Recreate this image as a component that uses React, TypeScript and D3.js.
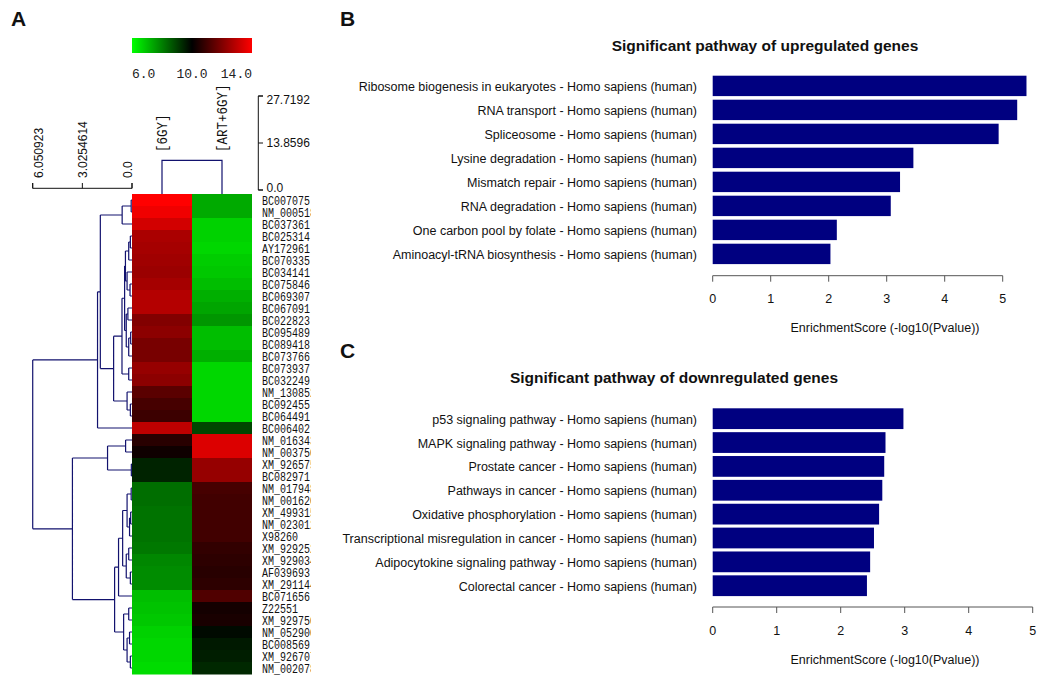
import React from 'react';
import * as d3 from 'd3';

// ---------- Panel A data ----------
const geneIds = [
  'BC007075', 'NM_000518', 'BC037361', 'BC025314', 'AY172961', 'BC070335', 'BC034141', 'BC075846',
  'BC069307', 'BC067091', 'BC022823', 'BC095489', 'BC089418', 'BC073766', 'BC073937', 'BC032249',
  'NM_130852', 'BC092455', 'BC064491', 'BC006402', 'NM_016343', 'NM_003750', 'XM_926575', 'BC082971',
  'NM_017948', 'NM_001620', 'XM_499315', 'NM_023012', 'X98260', 'XM_929252', 'XM_929034', 'AF039693',
  'XM_291144', 'BC071656', 'Z22551', 'XM_929750', 'NM_052900', 'BC008569', 'XM_926707', 'NM_002078',
];
const sampleNames = ['[6GY]', '[ART+6GY]'];
const expr6GY = [
  14.0, 13.76, 13.29, 12.67, 12.59, 12.51, 12.43, 12.59, 12.82, 12.82, 12.04, 12.2, 11.88, 11.88, 12.35, 12.2,
  11.41, 11.1, 10.94, 12.98, 10.63, 10.24, 9.45, 9.45, 8.27, 8.27, 8.2, 8.2, 8.2, 8.12, 7.88, 7.8,
  7.8, 7.02, 6.94, 6.86, 6.71, 6.63, 6.63, 6.55,
];
const exprART = [
  7.33, 7.33, 6.71, 6.71, 6.63, 6.78, 6.86, 7.02, 7.25, 7.41, 7.65, 7.02, 7.02, 7.25, 6.63, 6.63,
  6.63, 6.63, 6.63, 8.9, 13.45, 13.45, 12.35, 12.35, 11.1, 11.02, 11.02, 11.02, 11.02, 10.78, 10.71, 10.63,
  10.71, 11.25, 10.31, 10.39, 9.84, 9.61, 9.53, 9.37,
];
const keyTicks = [6, 10, 14];
const keyLabels = ['6.0', '10.0', '14.0'];

type Tree = number | [Tree, Tree, number];
// row dendrogram: [left, right, merge height]
const rowTree: Tree = [
  [
    [[[0, 1, 0.05], 2, 0.6],
      [
        [
          [
            [[[3, 4, 0.1], 5, 0.2], [6, [7, 8, 0.12], 0.3], 0.4],
            [[9, 10, 0.25], [[11, 12, 0.08], 13, 0.2], 0.35],
            0.45,
          ],
          [14, 15, 0.2],
          0.61,
        ],
        [16, [17, 18, 0.1], 0.3],
        1.12,
      ],
      1.93,
    ],
    19,
    2.1,
  ],
  [
    [[20, 21, 0.39], [22, 23, 0.04], 1.49],
    [
      [
        [
          [[24, 25, 0.05], [[26, 27, 0.08], 28, 0.15], 0.3],
          [[29, 30, 0.2], [31, 32, 0.1], 0.35],
          0.57,
        ],
        33,
        0.82,
      ],
      [[34, 35, 0.2], [[36, 37, 0.15], [38, 39, 0.1], 0.3], 0.51],
      1.06,
    ],
    3.63,
  ],
  6.05,
];
const colMergeHeight = 8.76;
const rowScaleTicks = [6.050923, 3.0254614, 0.0];
const rowScaleLabels = ['6.050923', '3.0254614', '0.0'];
const colScaleTicks = [27.7192, 13.8596, 0.0];
const colScaleLabels = ['27.7192', '13.8596', '0.0'];

// ---------- Panels B / C data ----------
const upPathways = [
  'Ribosome biogenesis in eukaryotes - Homo sapiens (human)',
  'RNA transport - Homo sapiens (human)',
  'Spliceosome - Homo sapiens (human)',
  'Lysine degradation - Homo sapiens (human)',
  'Mismatch repair - Homo sapiens (human)',
  'RNA degradation - Homo sapiens (human)',
  'One carbon pool by folate - Homo sapiens (human)',
  'Aminoacyl-tRNA biosynthesis - Homo sapiens (human)',
];
const upScores = [5.41, 5.25, 4.93, 3.46, 3.23, 3.07, 2.14, 2.03];
const downPathways = [
  'p53 signaling pathway - Homo sapiens (human)',
  'MAPK signaling pathway - Homo sapiens (human)',
  'Prostate cancer - Homo sapiens (human)',
  'Pathways in cancer - Homo sapiens (human)',
  'Oxidative phosphorylation - Homo sapiens (human)',
  'Transcriptional misregulation in cancer - Homo sapiens (human)',
  'Adipocytokine signaling pathway - Homo sapiens (human)',
  'Colorectal cancer - Homo sapiens (human)',
];
const downScores = [2.98, 2.7, 2.68, 2.65, 2.6, 2.52, 2.46, 2.41];
const scoreTicks = [0, 1, 2, 3, 4, 5];

const DEND = '#12126e';
const SANS = '"Liberation Sans", Arial, sans-serif';
const MONO = '"Liberation Mono", "Courier New", monospace';

function Heatmap() {
  const hmLeft = 132;
  const hmRight = 252;
  const hmTop = 194;
  const hmBottom = 674;
  const xCol = d3.scaleBand<number>().domain([0, 1]).range([hmLeft, hmRight]);
  const yRow = d3.scaleBand<number>().domain(d3.range(geneIds.length)).range([hmTop, hmBottom]);
  const color = d3.scaleLinear<string>().domain([6, 10, 14]).range(['#00ff00', '#000000', '#ff0000']).clamp(true);
  const keyX = d3.scaleLinear().domain([6, 14]).range([hmLeft, hmRight]);
  const rowH = d3.scaleLinear().domain([0, 6.050923]).range([hmLeft, 32.7]);
  const colH = d3.scaleLinear().domain([0, 27.7192]).range([190, 96]);

  // row dendrogram
  const segs: string[] = [];
  const walk = (t: Tree): { y: number; h: number } => {
    if (typeof t === 'number') return { y: (yRow(t) as number) + yRow.bandwidth() / 2, h: 0 };
    const a = walk(t[0]);
    const b = walk(t[1]);
    const x = rowH(t[2]);
    segs.push(`M${x},${a.y}V${b.y}`);
    segs.push(`M${x},${a.y}H${rowH(a.h)}`);
    segs.push(`M${x},${b.y}H${rowH(b.h)}`);
    return { y: (a.y + b.y) / 2, h: t[2] };
  };
  walk(rowTree);

  const c0 = (xCol(0) as number) + xCol.bandwidth() / 2;
  const c1 = (xCol(1) as number) + xCol.bandwidth() / 2;
  const cy = colH(colMergeHeight);
  const labelOffsets = [10, 5, 0];
  const colLabelDy = [4, 0, -2];

  return (
    <g>
      <defs>
        <linearGradient id="keyGrad" x1="0" x2="1" y1="0" y2="0">
          {keyTicks.map((t, i) => (
            <stop key={i} offset={(keyX(t) - hmLeft) / (hmRight - hmLeft)} stopColor={color(t)} />
          ))}
        </linearGradient>
        <clipPath id="rowLabClip">
          <rect x={255} y={190} width={56} height={490} />
        </clipPath>
      </defs>
      {/* color key */}
      <rect x={hmLeft} y={38} width={hmRight - hmLeft} height={15} fill="url(#keyGrad)" />
      {keyTicks.map((t, i) => (
        <text key={i} x={keyX(t)} y={78} fontFamily={MONO} fontSize={13} fill="#222"
          textAnchor={i === 0 ? 'start' : i === keyTicks.length - 1 ? 'end' : 'middle'}>
          {keyLabels[i]}
        </text>
      ))}
      {/* column labels */}
      {sampleNames.map((s, i) => {
        const cx = (xCol(i) as number) + xCol.bandwidth() / 2 + 5;
        return (
          <text key={s} transform={`translate(${cx},152) rotate(-90) scale(1,1.15)`} fontFamily={MONO} fontSize={12.5} fill="#111">
            {s}
          </text>
        );
      })}
      {/* column dendrogram */}
      <path d={`M${c0},${hmTop}V${cy}H${c1}V${hmTop}`} fill="none" stroke={DEND} strokeWidth={1.2} />
      {/* column height scale */}
      <path d={`M263,${colH(colScaleTicks[0])}H258.3V${colH(0)}H263`} fill="none" stroke="#111" strokeWidth={1} />
      {colScaleTicks.map((t, i) => (
        <g key={i}>
          <line x1={258.3} x2={263} y1={colH(t)} y2={colH(t)} stroke="#111" />
          <text x={266.5} y={colH(t) + colLabelDy[i]} dominantBaseline="central" fontFamily={SANS} fontSize={12} fill="#111">
            {colScaleLabels[i]}
          </text>
        </g>
      ))}
      {/* row height scale */}
      <path d={`M${rowH(rowScaleTicks[0])},183V188.3H${rowH(0)}V183`} fill="none" stroke="#111" />
      {rowScaleTicks.map((t, i) => (
        <g key={i}>
          <line x1={rowH(t)} x2={rowH(t)} y1={183} y2={188.3} stroke="#111" />
          <text transform={`translate(${rowH(t) + labelOffsets[i]},178) rotate(-90)`} fontFamily={SANS} fontSize={12} fill="#111">
            {rowScaleLabels[i]}
          </text>
        </g>
      ))}
      {/* row dendrogram */}
      <path d={segs.join('')} fill="none" stroke={DEND} strokeWidth={1.2} />
      {/* cells */}
      {geneIds.map((g, r) => (
        <g key={g}>
          <rect x={xCol(0)} y={yRow(r)} width={xCol.bandwidth()} height={yRow.bandwidth() + 0.5} fill={color(expr6GY[r])} />
          <rect x={xCol(1)} y={yRow(r)} width={xCol.bandwidth()} height={yRow.bandwidth() + 0.5} fill={color(exprART[r])} />
        </g>
      ))}
      {/* row labels */}
      <g clipPath="url(#rowLabClip)">
        {geneIds.map((g, r) => (
          <text key={g} transform={`translate(262,${(yRow(r) as number) + yRow.bandwidth() / 2 + 4.5}) scale(1,1.2)`}
            fontFamily={MONO} fontSize={10} fill="#111">
            {g}
          </text>
        ))}
      </g>
    </g>
  );
}

function BarPanel(props: {
  names: string[]; scores: number[]; title: string; titleX: number; titleY: number;
  xRange: [number, number]; yRange: [number, number]; padding: number; axisY: number;
}) {
  const { names, scores, title, titleX, titleY, xRange, yRange, padding, axisY } = props;
  const x = d3.scaleLinear().domain([0, 5]).range(xRange);
  const y = d3.scaleBand<number>().domain(d3.range(names.length)).range(yRange).padding(padding);
  return (
    <g>
      <text x={titleX} y={titleY} textAnchor="middle" fontFamily={SANS} fontWeight="bold" fontSize={15.5} fill="#111">
        {title}
      </text>
      {names.map((n, i) => (
        <g key={n}>
          <rect x={x(0)} y={y(i)} width={x(scores[i]) - x(0)} height={y.bandwidth()} fill="#000080" />
          <text x={697} y={(y(i) as number) + y.bandwidth() / 2 + 1} textAnchor="end" dominantBaseline="central"
            fontFamily={SANS} fontSize={12.5} fill="#111">
            {n}
          </text>
        </g>
      ))}
      <line x1={x(0)} x2={x(5)} y1={axisY} y2={axisY} stroke="#555" />
      {scoreTicks.map((t) => (
        <g key={t}>
          <line x1={x(t)} x2={x(t)} y1={axisY} y2={axisY + 6} stroke="#555" />
          <text x={x(t)} y={axisY + 27.5} textAnchor="middle" fontFamily={SANS} fontSize={12.5} fill="#111">
            {t}
          </text>
        </g>
      ))}
      <text x={885} y={axisY + 56.5} textAnchor="middle" fontFamily={SANS} fontSize={12.5} fill="#111">
        EnrichmentScore (-log10(Pvalue))
      </text>
    </g>
  );
}

export default function App() {
  return (
    <svg width={1053} height={681} style={{ position: 'absolute', left: 0, top: 0, background: '#fff' }}>
      <rect width={1053} height={681} fill="#fff" />
      <text x={11} y={26} fontFamily={SANS} fontWeight="bold" fontSize={21} fill="#111">A</text>
      <text x={340} y={26} fontFamily={SANS} fontWeight="bold" fontSize={21} fill="#111">B</text>
      <text x={340} y={358} fontFamily={SANS} fontWeight="bold" fontSize={21} fill="#111">C</text>
      <Heatmap />
      <BarPanel names={upPathways} scores={upScores} title="Significant pathway of upregulated genes"
        titleX={765} titleY={51} xRange={[712.7, 1002.7]} yRange={[72.1, 267.7]} padding={0.15} axisY={275.7} />
      <BarPanel names={downPathways} scores={downScores} title="Significant pathway of downregulated genes"
        titleX={674} titleY={383} xRange={[712.7, 1032.7]} yRange={[405.2, 599.2]} padding={0.13} axisY={607} />
    </svg>
  );
}
